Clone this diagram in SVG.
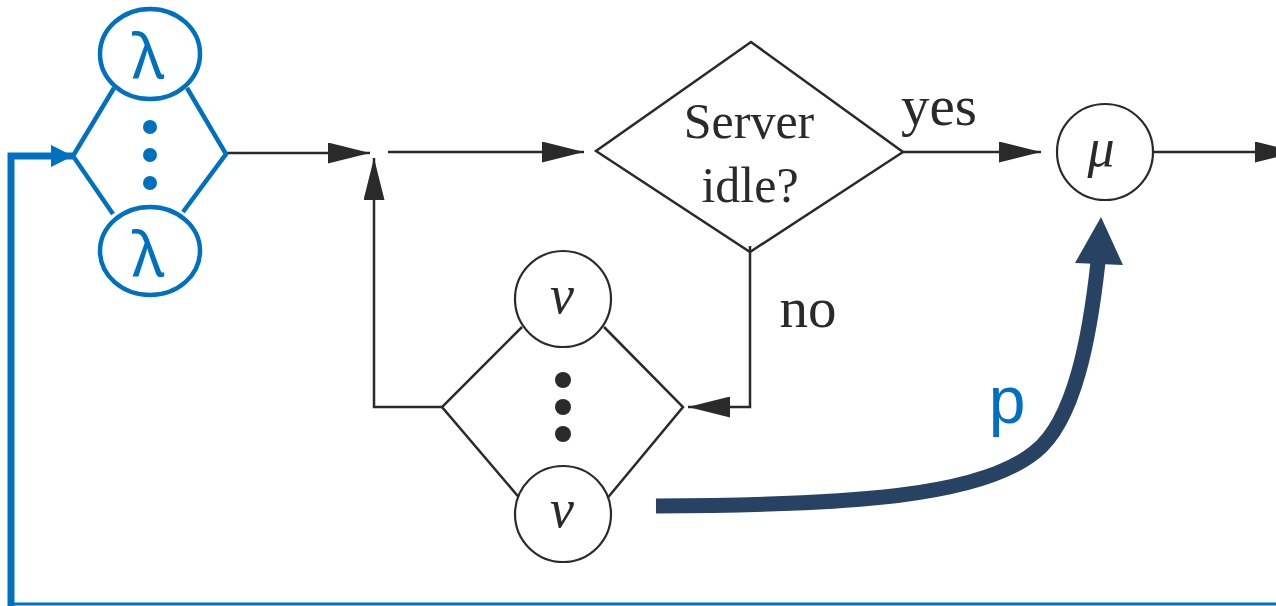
<svg xmlns="http://www.w3.org/2000/svg" width="1276" height="606" viewBox="0 0 1276 606">
<defs>
<marker id="ah" markerUnits="userSpaceOnUse" markerWidth="42" markerHeight="21" refX="42" refY="10.5" orient="auto"><path d="M0,0 L42,10.5 L0,21 Z" fill="#2a2a2a"/></marker>
<marker id="ahb" markerUnits="userSpaceOnUse" markerWidth="22" markerHeight="22" refX="22" refY="11" orient="auto"><path d="M0,0 L22,11 L0,22 Z" fill="#0070c0"/></marker>
</defs>
<style>
.ln{fill:none;stroke:#2a2a2a;stroke-width:2.5}
.nd{fill:#fff;stroke:#2a2a2a;stroke-width:2.2}
.bl{fill:none;stroke:#0070c0;stroke-width:4.5}
.serif{font-family:"Liberation Serif","DejaVu Serif",serif;fill:#2a2a2a;text-anchor:middle}
.math{font-family:"Liberation Serif","DejaVu Serif",serif;font-style:italic;fill:#2a2a2a;text-anchor:middle;font-size:54px}
.lam{font-family:"Noto Sans","Liberation Sans",sans-serif;fill:#0070c0;text-anchor:middle;font-size:62px}
</style>
<rect width="1276" height="606" fill="#fff"/>
<g id="connectors">
<path class="ln" d="M226,153 H370" marker-end="url(#ah)"/>
<path class="ln" d="M388,152 H584" marker-end="url(#ah)"/>
<path class="ln" d="M903,152 H1041" marker-end="url(#ah)"/>
<path class="ln" d="M1154,152 H1297" marker-end="url(#ah)"/>
<path class="ln" d="M750,246 V407 H688" marker-end="url(#ah)"/>
<path class="ln" d="M442,407 H374 V158" marker-end="url(#ah)"/>
<path d="M11,606 V156 H73" fill="none" stroke="#0070c0" stroke-width="7" marker-end="url(#ahb)"/>
<path d="M9,604 H1276" fill="none" stroke="#0070c0" stroke-width="3"/>
<path d="M656,506 C850,505 980,497 1035,452 C1075,421 1090,335 1098,262" fill="none" stroke="#274263" stroke-width="15"/>
<polygon points="1101,217 1123,265 1075,263" fill="#274263"/>
<text x="1007" y="423" font-family="'Liberation Sans',Arial,sans-serif" font-size="66" fill="#0070c0" text-anchor="middle">p</text>
<text x="939" y="125" class="serif" font-size="57">yes</text>
<text x="808" y="327" class="serif" font-size="57">no</text>
</g>
<g id="lambda-source">
<path class="bl" d="M114,88 L73,156 L113,214 M187,88 L226,154 L183,212"/>
<ellipse cx="150" cy="54" rx="50" ry="45" fill="#fff" stroke="#0070c0" stroke-width="4.5"/>
<ellipse cx="150" cy="251" rx="50" ry="44" fill="#fff" stroke="#0070c0" stroke-width="4.5"/>
<text x="148" y="78" class="lam">λ</text>
<text x="148" y="276" class="lam">λ</text>
<circle cx="150" cy="127" r="7" fill="#0070c0"/>
<circle cx="150" cy="155" r="7" fill="#0070c0"/>
<circle cx="150" cy="183" r="7" fill="#0070c0"/>
</g>
<g id="server-idle">
<polygon class="ln" points="751,42 903,152 750,252 596,151"/>
<text x="749" y="138" class="serif" font-size="50">Server</text>
<text x="750" y="202" class="serif" font-size="50">idle?</text>
</g>
<g id="mu-server">
<circle class="nd" cx="1105" cy="152" r="48"/>
<text x="1101" y="166" class="math">μ</text>
</g>
<g id="nu-orbit">
<path class="ln" d="M522,327 L442,407 L522,501 M604,327 L683,407 L605,501"/>
<circle class="nd" cx="563" cy="299" r="48"/>
<circle class="nd" cx="563" cy="514" r="48"/>
<text x="562" y="313" class="math">ν</text>
<text x="562" y="527" class="math">ν</text>
<circle cx="563" cy="380" r="8" fill="#2a2a2a"/>
<circle cx="563" cy="407" r="8" fill="#2a2a2a"/>
<circle cx="563" cy="434" r="8" fill="#2a2a2a"/>
</g>
</svg>
